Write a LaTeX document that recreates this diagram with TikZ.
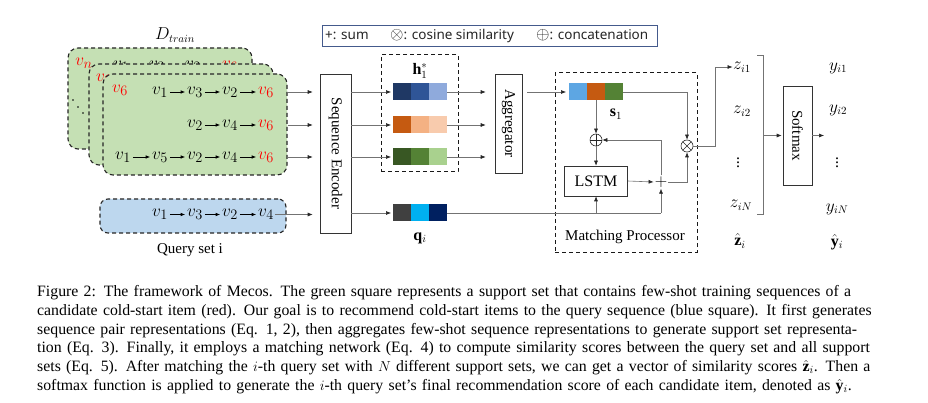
\documentclass[tikz,border=0pt]{standalone}
\usepackage{fontspec}
\setmainfont{Liberation Serif}
\newfontfamily\legfont{Noto Sans}
\usetikzlibrary{arrows.meta}
\definecolor{gfill}{RGB}{197,224,180}
\definecolor{bfill}{RGB}{189,215,238}
\definecolor{ca1}{RGB}{31,56,100}
\definecolor{ca2}{RGB}{47,85,151}
\definecolor{ca3}{RGB}{143,170,220}
\definecolor{cb1}{RGB}{197,90,17}
\definecolor{cb2}{RGB}{244,177,131}
\definecolor{cb3}{RGB}{248,203,173}
\definecolor{cc1}{RGB}{56,87,35}
\definecolor{cc2}{RGB}{84,130,53}
\definecolor{cc3}{RGB}{169,209,142}
\definecolor{cq1}{RGB}{64,64,64}
\definecolor{cq2}{RGB}{0,176,240}
\definecolor{cq3}{RGB}{0,32,96}
\definecolor{cs1}{RGB}{93,166,227}
\definecolor{legc}{RGB}{68,90,140}
\begin{document}
\begin{tikzpicture}[x=1pt,y=-1pt,
  lin/.style={draw=black!55, line width=0.6pt},
  arr/.style={lin, -{Latex[length=5pt,width=4pt,color=black!85]}},
  varr/.style={draw=black, line width=0.7pt, -{Latex[length=4.5pt,width=3.5pt]}, shorten <=0.5pt, shorten >=0.5pt},
  vv/.style={inner sep=1.2pt, font=\fontsize{19}{19}\selectfont},
  rv/.style={vv, text=red},
  gbox/.style={draw=black!85, dashed, dash pattern=on 4pt off 3pt, line width=1.1pt, fill=gfill, rounded corners=10pt, minimum width=184pt, minimum height=101pt, inner sep=0},
  qboxs/.style={draw=black!85, dashed, dash pattern=on 4pt off 3pt, line width=1.1pt, fill=bfill, rounded corners=8pt, minimum width=186pt, minimum height=34pt, inner sep=0},
  bx/.style={draw=black!80, line width=0.6pt, fill=white, inner sep=0},
  dbox/.style={draw=black!90, dashed, dash pattern=on 4pt off 3pt, line width=1pt, inner sep=0},
  txt/.style={inner sep=0, font=\fontsize{15}{15}\selectfont},
  lab/.style={inner sep=0.5pt, font=\fontsize{16}{16}\selectfont},
  cell/.style={minimum width=18pt, minimum height=17pt, inner sep=0, outer sep=0},
  legt/.style={inner sep=0, text=black!85, font=\legfont\fontsize{13.5}{13.5}\selectfont},
  opl/.style={circle, draw=black!85, line width=0.6pt, minimum size=12pt, inner sep=0,
    path picture={\draw[black!85, line width=0.6pt] (path picture bounding box.north) -- (path picture bounding box.south) (path picture bounding box.west) -- (path picture bounding box.east);}},
  otm/.style={circle, draw=black!85, line width=0.6pt, minimum size=12pt, inner sep=0,
    path picture={\draw[black!85, line width=0.6pt] (path picture bounding box.north west) -- (path picture bounding box.south east) (path picture bounding box.south west) -- (path picture bounding box.north east);}}
]
\useasboundingbox (0,0) rectangle (928,403);
\fill[white] (0,0) rectangle (928,403);

% legend
\node[draw=legc, line width=0.8pt, minimum width=335pt, minimum height=21pt, inner sep=0] (leg) at (489.5,35.5) {};
\node[legt, anchor=west] (l1) at (325,35.5) {+: sum};
\node[legt, anchor=west] (l2) at (390,35.5) {{\fontsize{17}{17}\selectfont$\otimes$}: cosine similarity};
\node[legt, anchor=west] (l3) at (536,35.5) {{\fontsize{17}{17}\selectfont$\oplus$}: concatenation};

% D train
\node[lab] (dtr) at (175,35) {$D_{train}$};

% back support set
\node[gbox] (back) at (160,98.5) {};
\node[rv] (bn) at (84,63) {$v_n$};
\node[vv] (b1) at (121,66) {$v_1$};
\node[vv] (b2) at (157,66) {$v_3$};
\node[vv] (b3) at (193,66) {$v_2$};
\node[rv] (b4) at (230,66) {$v_6$};
\draw[varr] (b1) -- (b2);
\draw[varr] (b2) -- (b3);
\draw[varr] (b3) -- (b4);
\fill (73,100) circle (0.9);
\fill (78,107) circle (0.9);
\fill (83,113) circle (0.9);

% middle support set
\node[gbox] (mid) at (181,114.5) {};
\node[rv] (m0) at (104,79) {$v_6$};

% front support set
\node[gbox] (front) at (195,124.5) {};
\node[rv] (f0) at (120,90) {$v_6$};
\node[vv] (f11) at (160,92) {$v_1$};
\node[vv] (f12) at (195,92) {$v_3$};
\node[vv] (f13) at (230,92) {$v_2$};
\node[rv] (f14) at (266,92) {$v_6$};
\draw[varr] (f11) -- (f12);
\draw[varr] (f12) -- (f13);
\draw[varr] (f13) -- (f14);
\node[vv] (f21) at (195,125) {$v_2$};
\node[vv] (f22) at (230,125) {$v_4$};
\node[rv] (f23) at (266,125) {$v_6$};
\draw[varr] (f21) -- (f22);
\draw[varr] (f22) -- (f23);
\node[vv] (f31) at (123,157) {$v_1$};
\node[vv] (f32) at (160,157) {$v_5$};
\node[vv] (f33) at (195,157) {$v_2$};
\node[vv] (f34) at (230,157) {$v_4$};
\node[rv] (f35) at (266,157) {$v_6$};
\draw[varr] (f31) -- (f32);
\draw[varr] (f32) -- (f33);
\draw[varr] (f33) -- (f34);
\draw[varr] (f34) -- (f35);

% query set
\node[qboxs] (qbox) at (193,216) {};
\node[vv] (q1) at (160,214.5) {$v_1$};
\node[vv] (q2) at (195,214.5) {$v_3$};
\node[vv] (q3) at (230,214.5) {$v_2$};
\node[vv] (q4) at (266,214.5) {$v_4$};
\draw[varr] (q1) -- (q2);
\draw[varr] (q2) -- (q3);
\draw[varr] (q3) -- (q4);
\node[txt] (qlab) at (190,250) {Query set i};

% sequence encoder
\node[bx, minimum width=31pt, minimum height=159pt] (enc) at (335.5,153.5) {};
\node[txt, rotate=-90] (enct) at (enc) {Sequence Encoder};
\draw[arr, shorten >=7pt] (front.east |- f14) -- (enc.west |- f14);
\draw[arr, shorten >=7pt] (front.east |- f23) -- (enc.west |- f23);
\draw[arr, shorten >=7pt] (front.east |- f35) -- (enc.west |- f35);
\draw[arr, shorten >=7pt] (q4) -- (enc.west |- q4);

% h box
\node[dbox, minimum width=77pt, minimum height=117pt] (hbox) at (419.5,113.5) {};
\node[lab] (hlab) at (420,71) {$\mathbf{h}_1^*$};
\node[cell, fill=ca1] (h1a) at (402,92) {};
\node[cell, fill=ca2] (h1b) at (420,92) {};
\node[cell, fill=ca3] (h1c) at (438,92) {};
\node[cell, fill=cb1] (h2a) at (402,125) {};
\node[cell, fill=cb2] (h2b) at (420,125) {};
\node[cell, fill=cb3] (h2c) at (438,125) {};
\node[cell, fill=cc1] (h3a) at (402,157) {};
\node[cell, fill=cc2] (h3b) at (420,157) {};
\node[cell, fill=cc3] (h3c) at (438,157) {};
\node[cell, fill=cq1] (qa) at (402,213) {};
\node[cell, fill=cq2] (qb) at (420,213) {};
\node[cell, fill=cq3] (qc) at (438,213) {};
\node[lab] (qilab) at (420,238) {$\mathbf{q}_i$};
\draw[arr, shorten >=2pt] (enc.east |- h1a) -- (h1a.west);
\draw[arr, shorten >=2pt] (enc.east |- h2a) -- (h2a.west);
\draw[arr, shorten >=2pt] (enc.east |- h3a) -- (h3a.west);
\draw[arr, shorten >=2pt] (enc.east |- qa) -- (qa.west);

% aggregator
\node[bx, minimum width=27pt, minimum height=99pt] (agg) at (508.5,123.5) {};
\node[txt, rotate=-90] (aggt) at (agg) {Aggregator};
\draw[arr, shorten >=9pt] (h1c.east) -- (agg.west |- h1c);
\draw[arr, shorten >=9pt] (h2c.east) -- (agg.west |- h2c);
\draw[arr, shorten >=9pt] (h3c.east) -- (agg.west |- h3c);

% matching processor
\node[dbox, minimum width=142pt, minimum height=179pt] (mp) at (626,162.5) {};
\node[txt] (mplab) at (625,237) {Matching Processor};
\node[cell, fill=cs1] (sa) at (578,92) {};
\node[cell, fill=cb1] (sb) at (596,92) {};
\node[cell, fill=cc2] (sc) at (614,92) {};
\node[lab] (slab) at (616,114) {$\mathbf{s}_1$};
\node[opl] (oplus) at (596,140) {};
\node[otm] (otimes) at (687,146) {};
\node[bx, minimum width=63pt, minimum height=30pt, font=\fontsize{16}{16}\selectfont] (lstm) at (596,181) {LSTM};
\node[inner sep=1pt, font=\fontsize{17}{17}\selectfont] (plus) at (661,182) {$+$};
\draw[arr, shorten <=5pt, shorten >=3pt] (agg.east |- sa) -- (sa.west);
\draw[arr] (sb.south) -- (oplus.north);
\draw[arr] (oplus.south) -- (lstm.north);
\draw[arr] (sc.east) -| (otimes.north);
\draw[arr] (lstm.east) -- (plus.west);
\draw[arr] (plus.east) -| (otimes.south);
\draw[arr] (plus.north) |- (oplus.east);
\draw[lin] (qc.east) -- (qc.east -| plus);
\draw[arr] (qc.east -| lstm) -- (lstm.south);
\draw[arr] (qc.east -| plus) -- (plus.south);

% scores
\node[lab] (z1) at (742,67) {$z_{i1}$};
\node[lab] (z2) at (742,111) {$z_{i2}$};
\node[lab] (zd) at (738,160) {$\vdots$};
\node[lab] (zN) at (741,205) {$z_{iN}$};
\node[lab] (zh) at (740,241) {$\hat{\mathbf{z}}_i$};
\coordinate (turn) at (715,146);
\draw[arr] (otimes.east) -- (turn) -- (turn |- z1) -- (z1.west);
\draw[lin] (757,55) -- (763,55) -- (763,214) -- (757,214);
\coordinate (brm) at (763,135.5);
\node[bx, minimum width=29pt, minimum height=99pt] (soft) at (797.5,135.5) {};
\node[txt, rotate=-90] (softt) at (soft) {Softmax};
\draw[arr, shorten >=1pt] (brm) -- (soft.west);
\coordinate (yout) at (824,135.5);
\draw[arr] (soft.east) -- (yout);
\node[lab] (y1) at (838,68) {$y_{i1}$};
\node[lab] (y2) at (838,110) {$y_{i2}$};
\node[lab] (yd) at (837,160) {$\vdots$};
\node[lab] (yN) at (837,209) {$y_{iN}$};
\node[lab] (yh) at (837,242) {$\hat{\mathbf{y}}_i$};

% caption
\node[anchor=north west, inner sep=0, text width=840pt, align=left, font=\fontsize{15.8}{18.8}\selectfont] (cap) at (37,285.2) {\makebox[840pt][s]{Figure 2: The framework of Mecos. The green square represents a support set that contains few-shot training sequences of a}\\
\makebox[840pt][s]{candidate cold-start item (red). Our goal is to recommend cold-start items to the query sequence (blue square). It first generates}\\
\makebox[840pt][s]{sequence pair representations (Eq. 1, 2), then aggregates few-shot sequence representations to generate support set representa-}\\
\makebox[840pt][s]{tion (Eq. 3). Finally, it employs a matching network (Eq. 4) to compute similarity scores between the query set and all support}\\
\makebox[840pt][s]{sets (Eq. 5). After matching the $i$-th query set with $N$ different support sets, we can get a vector of similarity scores $\hat{\mathbf{z}}_i$. Then a}\\
\mbox{softmax function is applied to generate the $i$-th query set's final recommendation score of each candidate item, denoted as $\hat{\mathbf{y}}_i$.}};
\end{tikzpicture}
\end{document}
